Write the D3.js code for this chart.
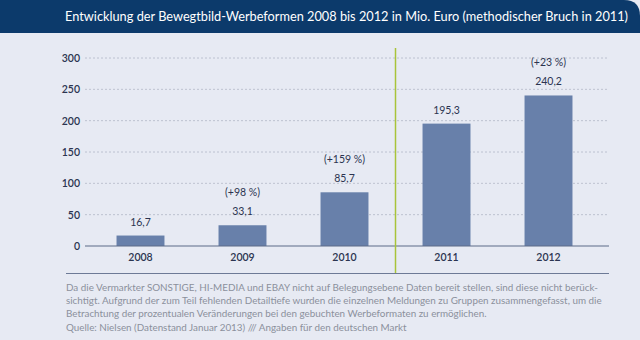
<!DOCTYPE html>
<html><head><meta charset="utf-8">
<script src="https://cdn.jsdelivr.net/npm/d3@7"></script>
<style>
html,body{margin:0;padding:0;background:#e7eaf3;}
svg{display:block;font-family:"Lato","Open Sans",sans-serif;}
</style></head>
<body>
<svg id="c" width="640" height="340"></svg>
<script>
const years = ["2008","2009","2010","2011","2012"];
const values = [16.7, 33.1, 85.7, 195.3, 240.2];
const valueLabels = ["16,7","33,1","85,7","195,3","240,2"];
const changeLabels = ["", "(+98 %)", "(+159 %)", "", "(+23 %)"];
const yTicks = [0, 50, 100, 150, 200, 250, 300];
const title = "Entwicklung der Bewegtbild-Werbeformen 2008 bis 2012 in Mio. Euro (methodischer Bruch in 2011)";
const notes = [
  "Da die Vermarkter SONSTIGE, HI-MEDIA und EBAY nicht auf Belegungsebene Daten bereit stellen, sind diese nicht berück-",
  "sichtigt. Aufgrund der zum Teil fehlenden Detailtiefe wurden die einzelnen Meldungen zu Gruppen zusammengefasst, um die",
  "Betrachtung der prozentualen Veränderungen bei den gebuchten Werbeformaten zu ermöglichen.",
  "Quelle: Nielsen (Datenstand Januar 2013) /// Angaben für den deutschen Markt"
];

const svg = d3.select("#c");
svg.append("rect").attr("width",640).attr("height",340).attr("fill","#e7eaf3");
svg.append("path").attr("d","M0,0 H624 Q640,0 640,16 V33 H0 Z").attr("fill","#0c3a6b");
const t = svg.append("text").attr("x",628).attr("y",21).attr("text-anchor","end")
  .attr("fill","#ffffff").attr("font-size",13.4).text(title);
// fit title into available width
const tw = t.node().getComputedTextLength();
if (tw > 563) t.attr("font-size", 13.4*563/tw);

const x = d3.scaleBand().domain(years).range([90,599]).paddingInner(0.53).paddingOuter(0.26);
const y = d3.scaleLinear().domain([0,300]).range([246,58]);

svg.append("g").selectAll("line").data(yTicks.filter(d=>d>0)).join("line")
  .attr("x1",85).attr("x2",609).attr("y1",d=>y(d)).attr("y2",d=>y(d))
  .attr("stroke","#b3b8c6").attr("stroke-width",0.8).attr("stroke-dasharray","2,2");

const yAxis = d3.axisLeft(y).tickValues(yTicks).tickSize(0).tickPadding(0);
const gy = svg.append("g").attr("transform","translate(80,0)").call(yAxis);
gy.select(".domain").remove();
gy.selectAll("text").attr("font-size",10.5).attr("fill","#2b3450").attr("font-family","Lato, sans-serif").attr("font-weight","600");

svg.append("g").selectAll("rect").data(values).join("rect")
  .attr("x",(d,i)=>x(years[i])).attr("width",x.bandwidth())
  .attr("y",d=>y(d)).attr("height",d=>y(0)-y(d)).attr("fill","#6880aa");

svg.append("line").attr("x1",85).attr("x2",609).attr("y1",y(0)).attr("y2",y(0))
  .attr("stroke","#5c6a88").attr("stroke-width",1.2);

const xAxis = d3.axisBottom(x).tickSize(0).tickPadding(8);
const gx = svg.append("g").attr("transform",`translate(0,${y(0)})`).call(xAxis);
gx.select(".domain").remove();
gx.selectAll("text").attr("font-size",10.5).attr("fill","#2b3450").attr("font-family","Lato, sans-serif").attr("font-weight","600");

svg.append("g").selectAll("text").data(values).join("text")
  .attr("x",(d,i)=>x(years[i])+x.bandwidth()/2).attr("y",d=>y(d)-10)
  .attr("text-anchor","middle").attr("font-size",10.5).attr("fill","#2b3450")
  .text((d,i)=>valueLabels[i]);
svg.append("g").selectAll("text").data(values).join("text")
  .attr("x",(d,i)=>x(years[i])+x.bandwidth()/2).attr("y",d=>y(d)-29)
  .attr("text-anchor","middle").attr("font-size",10.5).attr("fill","#2b3450")
  .text((d,i)=>changeLabels[i]);

const bx = (x("2010")+x.bandwidth()+x("2011"))/2;
svg.append("line").attr("x1",bx).attr("x2",bx).attr("y1",48).attr("y2",273)
  .attr("stroke","#a8c43a").attr("stroke-width",1.5);

svg.append("line").attr("x1",66).attr("x2",609).attr("y1",273.5).attr("y2",273.5)
  .attr("stroke","#6d7a96").attr("stroke-width",1);

svg.append("g").selectAll("text").data(notes).join("text")
  .attr("x",66).attr("y",(d,i)=>291+i*13.2)
  .attr("font-size",9.85).attr("fill","#8b909c").text(d=>d);
</script>
</body></html>
